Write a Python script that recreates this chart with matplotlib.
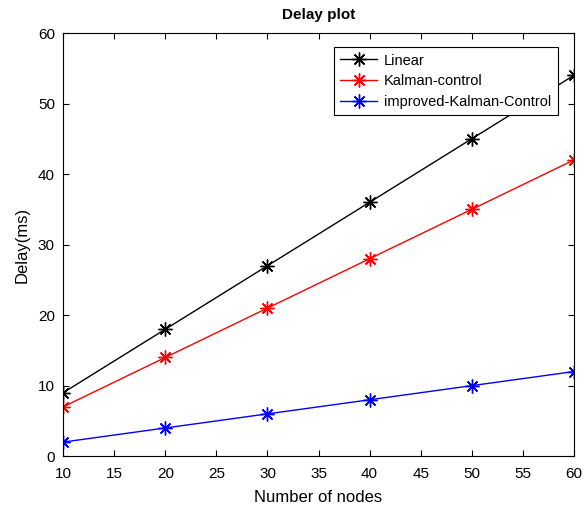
import matplotlib
matplotlib.use("Agg")
import matplotlib.pyplot as plt

plt.rcParams['font.family'] = ['Liberation Sans', 'DejaVu Sans']

nodes = [10, 20, 30, 40, 50, 60]
linear = [9, 18, 27, 36, 45, 54]
kalman = [7, 14, 21, 28, 35, 42]
improved = [2, 4, 6, 8, 10, 12]

fig = plt.figure(figsize=(5.85, 5.08), dpi=100)
ax = fig.add_axes([0.108, 0.102, 0.873, 0.833])

star = (8, 2, 0)  # matlab-like asterisk
ax.plot(nodes, linear, color='black', marker=star, markersize=10, mew=1, lw=1, label='Linear')
ax.plot(nodes, kalman, color='red', marker=star, markersize=10, mew=1, lw=1, label='Kalman-control')
ax.plot(nodes, improved, color='blue', marker=star, markersize=10, mew=1, lw=1, label='improved-Kalman-Control')

ax.set_xlim(10, 60)
ax.set_ylim(0, 60)
ax.set_xticks(range(10, 61, 5))
ax.set_yticks(range(0, 61, 10))
ax.tick_params(direction='in', top=True, right=True, labelsize=11, length=4)
ax.tick_params(axis='x', pad=8)
ax.tick_params(axis='y', pad=6)
for s in ax.spines.values():
    s.set_linewidth(0.8)

ax.set_title('Delay plot', fontsize=11, fontweight='bold', pad=10)
ax.set_xlabel('Number of nodes', fontsize=12, labelpad=6)
ax.set_ylabel('Delay(ms)', fontsize=12, labelpad=6)

leg = ax.legend(loc='upper right', bbox_to_anchor=(0.969, 0.967), fontsize=10.5,
                fancybox=False, edgecolor='black', framealpha=1, borderaxespad=0,
                handlelength=2.5, labelspacing=0.45, borderpad=0.45, handletextpad=0.5)
leg.get_frame().set_linewidth(0.8)

fig.savefig('out.png')
